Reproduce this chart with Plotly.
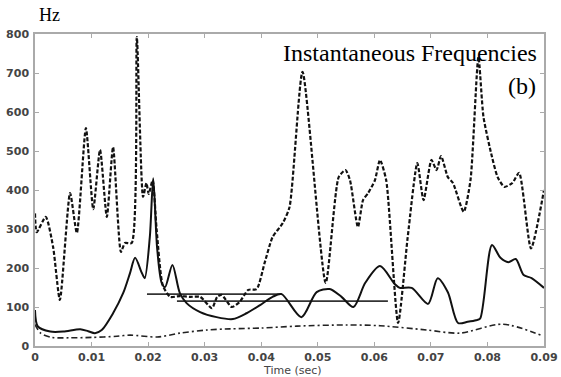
import plotly.graph_objects as go

# Dashed curve (upper instantaneous frequency)
t_dash = [0, 0.0003, 0.0019, 0.0032, 0.0044, 0.0062, 0.0074, 0.009, 0.0103, 0.0115, 0.0127, 0.0138,
          0.0152, 0.0159, 0.0171, 0.018, 0.0191, 0.0197, 0.0201, 0.0208, 0.0215, 0.0226, 0.0239, 0.0256,
          0.0274, 0.0292, 0.0313, 0.0322, 0.033, 0.0348, 0.0362, 0.0377, 0.0392, 0.0406, 0.042, 0.0438,
          0.045, 0.0473, 0.0514, 0.0537, 0.0549, 0.0557, 0.0571, 0.058, 0.0589, 0.0601, 0.061, 0.0621,
          0.0642, 0.0659, 0.0676, 0.0687, 0.0701, 0.071, 0.0718, 0.073, 0.0739, 0.0758, 0.077, 0.0784,
          0.0793, 0.0808, 0.0818, 0.083, 0.0844, 0.0856, 0.0877, 0.09]
f_dash = [340, 292, 331, 254, 118, 392, 290, 559, 351, 503, 331, 510,
          241, 264, 264, 792, 382, 418, 390, 425, 300, 155, 126, 128,
          126, 126, 97, 126, 131, 100, 113, 144, 146, 213, 279, 315,
          356, 703, 162, 433, 451, 425, 305, 374, 392, 425, 477, 425,
          59, 279, 469, 374, 477, 451, 487, 433, 418, 344, 425, 741,
          587, 485, 433, 408, 418, 444, 250, 400]

# Solid curve
t_solid = [0, 0.0005, 0.0027, 0.005, 0.008, 0.0094, 0.0106, 0.0118, 0.0138, 0.0156, 0.0168, 0.0177,
           0.0189, 0.0194, 0.0203, 0.0209, 0.0216, 0.0224, 0.023, 0.0243, 0.0256, 0.0268, 0.0292, 0.0321,
           0.035, 0.0374, 0.0398, 0.042, 0.0436, 0.0471, 0.0498, 0.0521, 0.0542, 0.0563, 0.0584, 0.061,
           0.0636, 0.0645, 0.0666, 0.0695, 0.0712, 0.073, 0.0748, 0.0765, 0.078, 0.0787, 0.0808, 0.0823,
           0.0837, 0.085, 0.0864, 0.0878, 0.09]
f_solid = [92, 50, 37, 37, 43, 38, 33, 41, 84, 136, 187, 226,
           187, 174, 279, 430, 250, 162, 151, 208, 136, 110, 87, 74,
           69, 84, 105, 126, 133, 74, 138, 146, 126, 100, 162, 205,
           159, 149, 149, 108, 174, 138, 59, 62, 66, 70, 259, 226,
           215, 223, 182, 174, 149]

# Dash-dot curve (lowest)
t_dd = [0, 0.001, 0.003, 0.006, 0.01, 0.0145, 0.0168, 0.0216, 0.0256, 0.0304, 0.0345, 0.0400,
        0.0463, 0.055, 0.061, 0.0693, 0.0751, 0.0827, 0.0898]
f_dd = [55, 33, 22, 21, 22, 25, 28, 23, 33, 41, 44, 46,
        51, 54, 52, 41, 33, 56, 26]

# Horizontal reference segments
t_h1 = [0.0198, 0.0437]
f_h1 = [133, 133]
t_h2 = [0.0251, 0.0624]
f_h2 = [115, 115]

x_ticks = [0, 0.01, 0.02, 0.03, 0.04, 0.05, 0.06, 0.07, 0.08, 0.09]
x_ticklabels = ["0", "0.01", "0.02", "0.03", "0.04", "0.05", "0.06", "0.07", "0.08", "0.09"]
y_ticks = [0, 100, 200, 300, 400, 500, 600, 700, 800]

fig = go.Figure()
fig.add_trace(go.Scatter(x=t_dd, y=f_dd, mode="lines",
                         line=dict(color="#222", width=1.6, dash="6px,3px,2px,3px", shape="spline", smoothing=0.8)))
fig.add_trace(go.Scatter(x=t_h1, y=f_h1, mode="lines", line=dict(color="#333", width=1.6)))
fig.add_trace(go.Scatter(x=t_h2, y=f_h2, mode="lines", line=dict(color="#333", width=1.6)))
fig.add_trace(go.Scatter(x=t_solid, y=f_solid, mode="lines",
                         line=dict(color="#111", width=2, shape="spline", smoothing=0.8)))
fig.add_trace(go.Scatter(x=t_dash, y=f_dash, mode="lines",
                         line=dict(color="#111", width=2.2, dash="4px,2px", shape="spline", smoothing=0.6)))

tickfont = dict(family="DejaVu Sans", size=11, color="#444", weight="bold")
axis_common = dict(showgrid=False, zeroline=False, showline=True, linecolor="#aaa", linewidth=1.5,
                   mirror="ticks", ticks="inside", ticklen=4, tickcolor="#aaa", tickwidth=1,
                   tickfont=tickfont, automargin=False)

fig.update_layout(
    width=561, height=377,
    margin=dict(l=35, r=17, t=34, b=31),
    paper_bgcolor="white", plot_bgcolor="white",
    showlegend=False,
    xaxis=dict(range=[0, 0.09], tickvals=x_ticks, ticktext=x_ticklabels, **axis_common),
    yaxis=dict(range=[0, 800], tickvals=y_ticks, ticklabelstandoff=2, **axis_common),
    annotations=[
        dict(text="Hz", x=0.029, y=1.061, xref="paper", yref="paper", showarrow=False,
             xanchor="center", yanchor="middle",
             font=dict(family="Liberation Serif", size=18, color="black")),
        dict(text="Instantaneous Frequencies", x=0.991, y=0.938, xref="paper", yref="paper",
             xanchor="right", yanchor="middle", showarrow=False,
             font=dict(family="Liberation Serif", size=24, color="black")),
        dict(text="(b)", x=0.988, y=0.833, xref="paper", yref="paper",
             xanchor="right", yanchor="middle", showarrow=False,
             font=dict(family="Liberation Serif", size=24, color="black")),
        dict(text="Time (sec)", x=0.505, y=-0.077, xref="paper", yref="paper",
             xanchor="center", yanchor="middle", showarrow=False,
             font=dict(family="DejaVu Sans", size=11, color="#444")),
    ],
)

fig.write_html("out.html")
